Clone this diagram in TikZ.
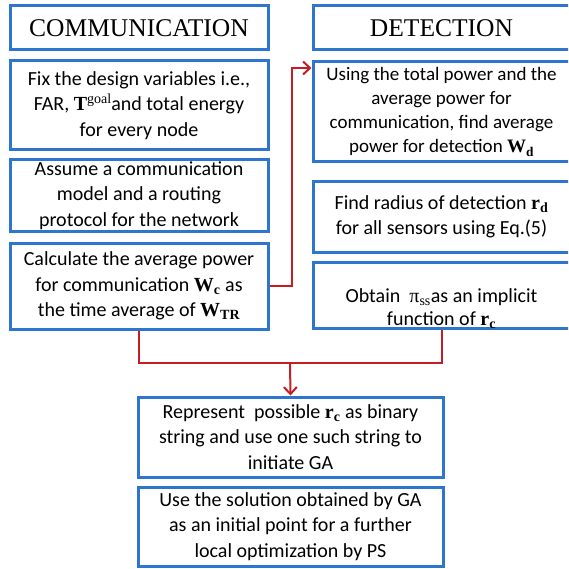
\documentclass[tikz,border=0pt]{standalone}
\usepackage{fontspec}
\setmainfont{Carlito}
\newfontfamily\sr{Liberation Serif}
\usetikzlibrary{arrows.meta,calc}
\definecolor{bblue}{RGB}{46,117,206}
\definecolor{rred}{RGB}{196,30,36}
\newcommand{\bv}[2]{{\sr\bfseries #1}\textsubscript{\sr\bfseries #2}}
\begin{document}
\begin{tikzpicture}[x=1pt,y=1pt,
  box/.style={draw=bblue,line width=3pt,fill=white,align=center,inner sep=2pt,
    font=\fontsize{20}{25.5}\selectfont},
  titlebox/.style={box,font=\sr\fontsize{25.5}{28}\selectfont},
  conn/.style={draw=rred,line width=2pt},
  >={Straight Barb[length=7pt,width=13pt,line width=2pt]}]
\useasboundingbox (0,0) rectangle (568,-569);
\begin{scope}
\clip (0,0) rectangle (568,-569);
\node[titlebox,minimum width=258,minimum height=44] (comm) at (139,-28) {COMMUNICATION};
\node[box,minimum width=258,minimum height=89] (fix) at (139,-105.5)
  {Fix the design variables i.e.,\\FAR, {\sr\bfseries T}\raisebox{7pt}{\sr\fontsize{14}{14}\selectfont goal}and total energy\\for every node};
\node[box,minimum width=258,minimum height=71] (assume) at (139,-195.5)
  {Assume a communication\\model and a routing\\protocol for the network};
\node[box,minimum width=258,minimum height=86] (calc) at (139,-286)
  {Calculate the average power\\for communication \bv{W}{c} as\\the time average of \bv{W}{TR}};
\node[titlebox,minimum width=257,minimum height=44] (det) at (441.5,-28) {DETECTION};
\node[box,minimum width=257,minimum height=100,font=\fontsize{19}{24}\selectfont] (using) at (441.5,-112)
  {Using the total power and the\\average power for\\communication, find average\\power for detection \bv{W}{d}};
\node[box,minimum width=257,minimum height=70] (find) at (441.5,-217)
  {Find radius of detection \bv{r}{d}\\for all sensors using Eq.(5)};
\node[box,minimum width=257,minimum height=66] (obtain) at (441.5,-295) {};
\node[align=center,font=\fontsize{20}{23}\selectfont] (obtaintext) at (441.5,-309)
  {Obtain \ {\sr π}\textsubscript{\sr ss}as an implicit\\function of \bv{r}{c}};
\node[box,minimum width=305,minimum height=80] (repr) at (290.5,-437)
  {Represent \ possible \bv{r}{c} as binary\\string and use one such string to\\initiate GA};
\node[box,minimum width=305,minimum height=79] (use) at (290.5,-526.5)
  {Use the solution obtained by GA\\as an initial point for a further\\local optimization by PS};
\coordinate (j) at (290,-363);
\draw[conn,->] (calc.east) -- ++(22,0) |- ([yshift=44]using.west);
\draw[conn] (calc.south) |- (j) -| (obtain.south);
\draw[conn,->] (j) -- (repr.north);
\end{scope}
\end{tikzpicture}
\end{document}
